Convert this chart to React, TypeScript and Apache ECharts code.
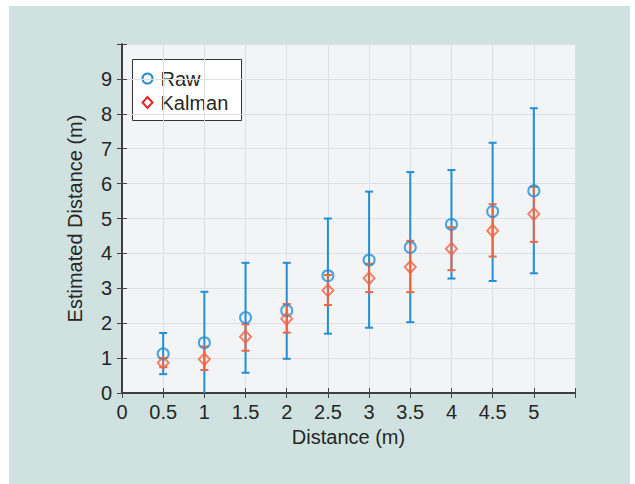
import React, { useEffect, useRef } from "react";
import * as echarts from "echarts";

const distances = [0.5, 1, 1.5, 2, 2.5, 3, 3.5, 4, 4.5, 5];
const rawMean = [1.12, 1.44, 2.16, 2.36, 3.36, 3.81, 4.17, 4.83, 5.2, 5.79];
const rawLow = [0.54, -0.3, 0.58, 0.98, 1.7, 1.87, 2.03, 3.28, 3.21, 3.43];
const rawHigh = [1.72, 2.9, 3.73, 3.73, 5.0, 5.77, 6.33, 6.39, 7.17, 8.16];
const kalMean = [0.87, 0.97, 1.61, 2.13, 2.94, 3.29, 3.61, 4.13, 4.65, 5.13];
const kalLow = [0.74, 0.66, 1.21, 1.73, 2.52, 2.89, 2.89, 3.52, 3.91, 4.33];
const kalHigh = [1.0, 1.33, 1.97, 2.55, 3.38, 3.7, 4.36, 4.75, 5.41, 5.91];

const legendNames = ["Raw", "Kalman"];
const xAxisTitle = "Distance (m)";
const yAxisTitle = "Estimated Distance (m)";

const BLUE = "#1f8fd6";
const ORANGE = "#ef6541";
const LEGEND_RED = "#e8262a";
const FONT = "Liberation Sans, Arial, Helvetica, sans-serif";
const TEXT = "#262626";

function errorBarSeries(lo: number[], hi: number[], color: string) {
  return {
    type: "custom",
    clip: true,
    data: distances.map((d, i) => [d, lo[i], hi[i]]),
    encode: { x: 0, y: [1, 2] },
    renderItem: (_params: any, api: any) => {
      const x = api.value(0);
      const pHi = api.coord([x, api.value(2)]);
      const pLo = api.coord([x, api.value(1)]);
      const hw = 4;
      const style = { stroke: color, lineWidth: 2 };
      return {
        type: "group",
        children: [
          { type: "line", shape: { x1: pHi[0], y1: pHi[1], x2: pLo[0], y2: pLo[1] }, style },
          { type: "line", shape: { x1: pHi[0] - hw, y1: pHi[1], x2: pHi[0] + hw, y2: pHi[1] }, style },
          { type: "line", shape: { x1: pLo[0] - hw, y1: pLo[1], x2: pLo[0] + hw, y2: pLo[1] }, style },
        ],
      };
    },
  };
}

export default function App() {
  const ref = useRef<HTMLDivElement>(null);
  useEffect(() => {
    if (!ref.current) return;
    const chart = echarts.init(ref.current, undefined, { renderer: "svg" });
    const tickStyle = { show: true, inside: true, length: 5, lineStyle: { color: "#444", width: 1 } };
    const axisLine = { show: true, lineStyle: { color: "#333", width: 1.5 } };
    chart.setOption({
      animation: false,
      backgroundColor: "transparent",
      grid: {
        left: 122,
        top: 44,
        right: 60,
        bottom: 91,
        show: true,
        backgroundColor: "#f3f4f5",
        borderWidth: 0,
      },
      xAxis: [
        {
          type: "value",
          min: 0,
          max: 5.5,
          interval: 0.5,
          axisLine,
          axisTick: tickStyle,
          axisLabel: {
            color: TEXT,
            fontSize: 20,
            fontFamily: FONT,
            margin: 9,
            formatter: (v: number) => (v > 5.01 ? "" : String(v)),
          },
          splitLine: { show: true, lineStyle: { color: "#dde1e3", width: 1 } },
          name: xAxisTitle,
          nameLocation: "middle",
          nameGap: 44,
          nameTextStyle: { color: TEXT, fontSize: 20, fontFamily: FONT, verticalAlign: "middle" },
        },
        {
          type: "value",
          position: "top",
          min: 0,
          max: 5.5,
          interval: 0.5,
          axisLine,
          axisTick: tickStyle,
          axisLabel: { show: false },
          splitLine: { show: false },
        },
      ],
      yAxis: [
        {
          type: "value",
          min: 0,
          max: 10,
          interval: 1,
          axisLine,
          axisTick: tickStyle,
          axisLabel: {
            color: TEXT,
            fontSize: 20,
            fontFamily: FONT,
            margin: 10,
            formatter: (v: number) => (v > 9.5 ? "" : String(v)),
          },
          splitLine: { show: true, lineStyle: { color: "#dde1e3", width: 1 } },
          name: yAxisTitle,
          nameLocation: "middle",
          nameGap: 47,
          nameTextStyle: { color: TEXT, fontSize: 20, fontFamily: FONT, verticalAlign: "middle" },
        },
        {
          type: "value",
          position: "right",
          min: 0,
          max: 10,
          interval: 1,
          axisLine,
          axisTick: tickStyle,
          axisLabel: { show: false },
          splitLine: { show: false },
        },
      ],
      series: [
        errorBarSeries(rawLow, rawHigh, BLUE),
        {
          type: "scatter",
          name: legendNames[0],
          data: distances.map((d, i) => [d, rawMean[i]]),
          symbol: "circle",
          symbolSize: 11,
          itemStyle: { color: "rgba(0,0,0,0)", borderColor: BLUE, borderWidth: 2 },
        },
        errorBarSeries(kalLow, kalHigh, ORANGE),
        {
          type: "scatter",
          name: legendNames[1],
          data: distances.map((d, i) => [d, kalMean[i]]),
          symbol: "diamond",
          symbolSize: [11, 12],
          itemStyle: { color: "rgba(0,0,0,0)", borderColor: ORANGE, borderWidth: 2 },
        },
      ],
      graphic: [
        {
          type: "group",
          left: 132,
          top: 59,
          children: [
            {
              type: "rect",
              shape: { x: 0, y: 0, width: 109, height: 61 },
              style: { fill: "#ffffff", stroke: "#333", lineWidth: 1 },
            },
            {
              type: "circle",
              shape: { cx: 15, cy: 19, r: 5 },
              style: { fill: "none", stroke: BLUE, lineWidth: 2 },
            },
            {
              type: "polygon",
              shape: { points: [[15, 37.5], [20, 43], [15, 48.5], [10, 43]] },
              style: { fill: "none", stroke: LEGEND_RED, lineWidth: 2 },
            },
            {
              type: "text",
              style: {
                x: 28,
                y: 19,
                text: legendNames[0],
                fill: TEXT,
                fontSize: 20,
                fontFamily: FONT,
                verticalAlign: "middle",
              },
            },
            {
              type: "text",
              style: {
                x: 28,
                y: 43,
                text: legendNames[1],
                fill: TEXT,
                fontSize: 20,
                fontFamily: FONT,
                verticalAlign: "middle",
              },
            },
          ],
        },
      ],
    });
    return () => chart.dispose();
  }, []);

  return (
    <div style={{ position: "absolute", left: 0, top: 0, width: 635, height: 484, background: "#ffffff" }}>
      <div
        style={{ position: "absolute", left: 9, top: 6, width: 621, height: 478, background: "#cfe2df" }}
      />
      <div ref={ref} style={{ position: "absolute", left: 0, top: 0, width: 635, height: 484 }} />
    </div>
  );
}
